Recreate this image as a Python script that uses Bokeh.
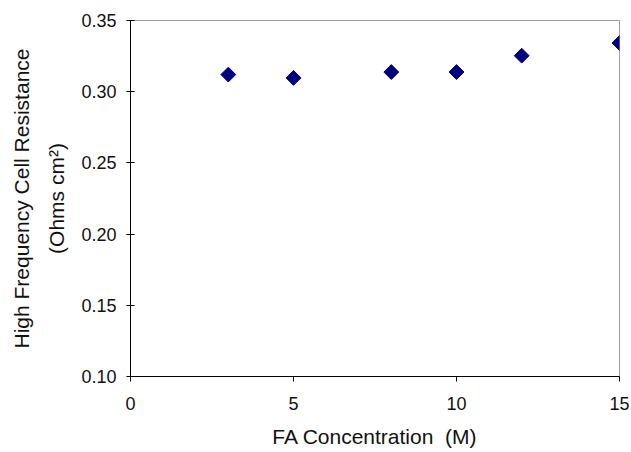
import numpy as np
from bokeh.plotting import figure
from bokeh.models import FixedTicker, Range1d, PrintfTickFormatter
from bokeh.embed import file_html
from bokeh.resources import INLINE

fa_conc = [3, 5, 8, 10, 12, 15]
hf_resistance = [0.312, 0.3097, 0.3138, 0.3138, 0.3253, 0.3342]
x_ticks = [0, 5, 10, 15]
y_ticks = [0.10, 0.15, 0.20, 0.25, 0.30, 0.35]

FONT = "Liberation Sans"

p = figure(width=629, height=450, output_backend="svg", toolbar_location=None,
           x_range=Range1d(0, 15), y_range=Range1d(0.10, 0.35),
           min_border_left=130, min_border_right=10, min_border_top=20,
           min_border_bottom=71)
p.background_fill_color = "white"
p.border_fill_color = "white"
p.outline_line_color = "#a0a0a0"
p.outline_line_width = 1
p.xgrid.visible = False
p.ygrid.visible = False

p.scatter(fa_conc, hf_resistance, marker="square", angle=np.pi / 4, size=10.5,
          fill_color="#000080", line_color="#000080")

for ax in (p.xaxis[0], p.yaxis[0]):
    ax.axis_line_color = "black"
    ax.major_tick_line_color = "black"
    ax.minor_tick_line_color = None
    ax.major_label_text_font = FONT
    ax.major_label_text_font_size = "18px"
    ax.major_label_text_color = "#111111"
    ax.axis_label_text_font = FONT
    ax.axis_label_text_font_size = "21px"
    ax.axis_label_text_font_style = "normal"
    ax.axis_label_text_color = "#111111"

p.xaxis.ticker = FixedTicker(ticks=x_ticks)
p.xaxis.major_tick_in = 0
p.xaxis.major_tick_out = 5
p.xaxis.major_label_standoff = 15
p.xaxis.axis_label = "FA Concentration\u00a0 (M)"
p.xaxis.axis_label_standoff = 12

p.yaxis.ticker = FixedTicker(ticks=y_ticks)
p.yaxis.formatter = PrintfTickFormatter(format="%.2f")
p.yaxis.major_tick_in = 4
p.yaxis.major_tick_out = 4
p.yaxis.major_label_standoff = 10
p.yaxis.axis_label = "High Frequency Cell Resistance\n(Ohms cm\u00b2)"
p.yaxis.axis_label_text_line_height = 1.55
p.yaxis.axis_label_standoff = 10

open("out.html", "w").write(file_html(p, INLINE))
